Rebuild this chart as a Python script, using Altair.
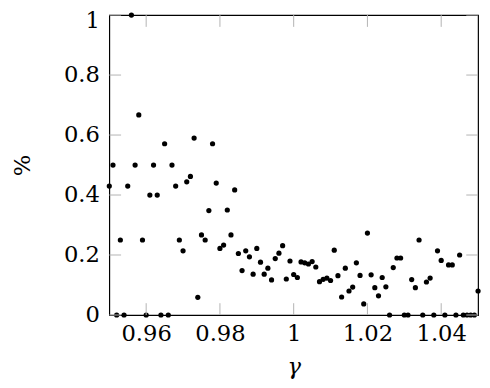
import altair as alt
import pandas as pd

gamma = [0.950, 0.951, 0.952, 0.953, 0.954, 0.955, 0.956, 0.957, 0.958, 0.959,
         0.960, 0.961, 0.962, 0.963, 0.964, 0.965, 0.966, 0.967, 0.968, 0.969,
         0.970, 0.971, 0.972, 0.973, 0.974, 0.975, 0.976, 0.977, 0.978, 0.979,
         0.980, 0.981, 0.982, 0.983, 0.984, 0.985, 0.986, 0.987, 0.988, 0.989,
         0.990, 0.991, 0.992, 0.993, 0.994, 0.995, 0.996, 0.997, 0.998, 0.999,
         1.000, 1.001, 1.002, 1.003, 1.004, 1.005, 1.006, 1.007, 1.008, 1.009,
         1.010, 1.011, 1.012, 1.013, 1.014, 1.015, 1.016, 1.017, 1.018, 1.019,
         1.020, 1.021, 1.022, 1.023, 1.024, 1.025, 1.026, 1.027, 1.028, 1.029,
         1.030, 1.031, 1.032, 1.033, 1.034, 1.035, 1.036, 1.037, 1.038, 1.039,
         1.040, 1.041, 1.042, 1.043, 1.044, 1.045, 1.046, 1.047, 1.048, 1.049,
         1.050]

percent = [0.43, 0.5, 0, 0.25, 0, 0.43, 1.0, 0.5, 0.667, 0.25,
           0, 0.4, 0.5, 0.4, 0, 0.571, 0, 0.5, 0.43, 0.25,
           0.214, 0.444, 0.462, 0.59, 0.059, 0.267, 0.25, 0.348, 0.571, 0.44,
           0.222, 0.233, 0.35, 0.267, 0.417, 0.205, 0.148, 0.214, 0.194, 0.136,
           0.222, 0.176, 0.136, 0.156, 0.117, 0.188, 0.206, 0.231, 0.12, 0.18,
           0.135, 0.125, 0.177, 0.174, 0.17, 0.178, 0.16, 0.111, 0.119, 0.123,
           0.115, 0.216, 0.131, 0.06, 0.156, 0.08, 0.093, 0.174, 0.132, 0.037,
           0.273, 0.134, 0.091, 0.064, 0.125, 0.094, 0, 0.158, 0.19, 0.19,
           0, 0, 0.118, 0.091, 0.25, 0, 0.11, 0.123, 0, 0.214,
           0.182, 0, 0.167, 0.167, 0, 0.2, 0, 0, 0, 0,
           0.08]

x_ticks = [0.96, 0.98, 1.0, 1.02, 1.04]
y_ticks = [0, 0.2, 0.4, 0.6, 0.8, 1.0]

W, H = 375, 305
TL = 12
FONT = "DejaVu Serif"
FS = 23

df = pd.DataFrame({"gamma": gamma, "pct": percent})
xt = pd.DataFrame({"gamma": x_ticks})
yt = pd.DataFrame({"pct": y_ticks})

xscale = alt.Scale(domain=[0.95, 1.05], nice=False, zero=False)
yscale = alt.Scale(domain=[0, 1], nice=False)

common = dict(labelFont=FONT, titleFont=FONT, labelFontSize=FS, titleFontSize=FS,
              labelColor="#000", titleColor="#000", titleFontWeight="normal",
              labelFlush=False, labelOverlap=False, ticks=False, domain=False,
              grid=False)

xaxis = alt.Axis(values=x_ticks, format="~g", title="γ", labelPadding=8,
                 titlePadding=10, titleFontStyle="italic", **common)
yaxis = alt.Axis(values=y_ticks, format="~g", title="%", labelPadding=10,
                 titlePadding=30,
                 labelOffset={"expr": "datum.value == 1 ? 6 : 0"}, **common)

X = alt.X("gamma:Q", scale=xscale, axis=xaxis)
Y = alt.Y("pct:Q", scale=yscale, axis=yaxis)

points = alt.Chart(df).mark_circle(size=28, color="#000", opacity=1).encode(x=X, y=Y)

tick_color = "#b3b3b3"
xb = alt.Chart(xt).mark_rule(color=tick_color, strokeWidth=1).encode(
    x=X, y=alt.value(H), y2=alt.value(H - TL))
xtop = alt.Chart(xt).mark_rule(color=tick_color, strokeWidth=1).encode(
    x=X, y=alt.value(0), y2=alt.value(TL))
yl = alt.Chart(yt).mark_rule(color=tick_color, strokeWidth=1).encode(
    y=Y, x=alt.value(0), x2=alt.value(TL))
yr = alt.Chart(yt).mark_rule(color=tick_color, strokeWidth=1).encode(
    y=Y, x=alt.value(W), x2=alt.value(W - TL))

chart = alt.layer(points, xb, xtop, yl, yr).properties(
    width=W, height=H,
    autosize=alt.AutoSizeParams(type="none"),
    padding={"left": 103, "top": 4, "right": 4, "bottom": 68},
).configure(
    font=FONT
).configure_view(
    stroke="#000", strokeWidth=1.2
)

chart.save("out.html", embed_options={"renderer": "svg", "actions": False})
